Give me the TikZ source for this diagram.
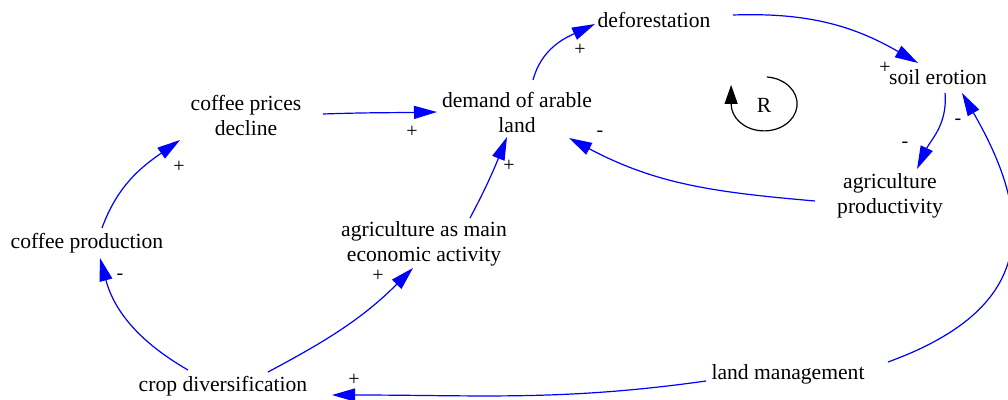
\documentclass[tikz,border=0pt]{standalone}
\usepackage{fontspec}
\setmainfont{Liberation Serif}
\usetikzlibrary{arrows.meta}
\begin{document}
\begin{tikzpicture}[x=1pt,y=1pt,
  var/.style={inner sep=0pt, outer sep=0pt, align=center, font=\fontsize{21.6}{25}\selectfont, text=black},
  sign/.style={inner sep=0pt, font=\fontsize{20}{22}\selectfont},
  link/.style={draw=blue, line width=1.2pt, -{Triangle[length=23pt,width=13pt]}, fill=none},
  loopar/.style={draw=black, line width=1.2pt, -{Triangle[length=19pt,width=13pt]}}]
\useasboundingbox (0,0) rectangle (1008,-399);
% variables
\node[var] (def)  at (654,-20)  {deforestation};
\node[var] (soil) at (938,-77)  {soil erotion};
\node[var] (dem)  at (517,-112) {demand of arable\\land};
\node[var] (cpd)  at (246,-115) {coffee prices\\decline};
\node[var] (agp)  at (890,-196) {agriculture\\productivity};
\node[var] (cp)   at (87,-243)  {coffee production};
\node[var] (aga)  at (424,-244) {agriculture as main\\economic activity};
\node[var] (crop) at (223,-386) {crop diversification};
\node[var] (lm)   at (788,-374) {land management};
\node[var] (R)    at (764,-105) {R};
% links
\draw[link] ([shift={(77,1)}]cpd.center) to[out=2,in=181] ([shift={(-80,0)}]dem.center);
\draw[link] ([shift={(16,32)}]dem.center) to[out=75,in=205] ([shift={(-59,-4)}]def.center);
\draw[link] ([shift={(79,5)}]def.center) to[out=2,in=150] ([shift={(-20,14)}]soil.center);
\draw[link] ([shift={(7,-16)}]soil.center) to[out=-85,in=65] ([shift={(27,27)}]agp.center);
\draw[link] ([shift={(-75,-5)}]agp.center) to[out=175,in=-28] ([shift={(52,-26)}]dem.center);
\draw[link] ([shift={(46,26)}]aga.center) to[out=62,in=-112] ([shift={(-10,-25)}]dem.center);
\draw[link] ([shift={(45,14)}]crop.center) to[out=28,in=225] ([shift={(-11,-24)}]aga.center);
\draw[link] ([shift={(-35,16)}]crop.center) to[out=150,in=-75] ([shift={(13,-15)}]cp.center);
\draw[link] ([shift={(15,15)}]cp.center) to[out=70,in=215] ([shift={(-66,-25)}]cpd.center);
\draw[link] ([shift={(-82,-7)}]lm.center) to[out=188,in=0] ([shift={(109,-9)}]crop.center);
\draw[link] ([shift={(100,12)}]lm.center) to[out=20,in=-60,looseness=1.4] ([shift={(24,-16)}]soil.center);
% loop marker
\draw[loopar] ([shift={(3,28)}]R.center) arc[start angle=85,end angle=-180,x radius=33,y radius=27] -- ++(0,19);
% polarities
\node[sign] (s1)  at (412,-132) {+};
\node[sign] (s2)  at (580,-50)  {+};
\node[sign] (s3)  at (885,-68)  {+};
\node[sign] (s4)  at (905,-145) {-};
\node[sign] (s5)  at (600,-134) {-};
\node[sign] (s6)  at (509,-166) {+};
\node[sign] (s7)  at (378,-276) {+};
\node[sign] (s8)  at (120,-277) {-};
\node[sign] (s9)  at (179,-167) {+};
\node[sign] (s10) at (354,-380) {+};
\node[sign] (s11) at (958,-122) {-};
\end{tikzpicture}
\end{document}
